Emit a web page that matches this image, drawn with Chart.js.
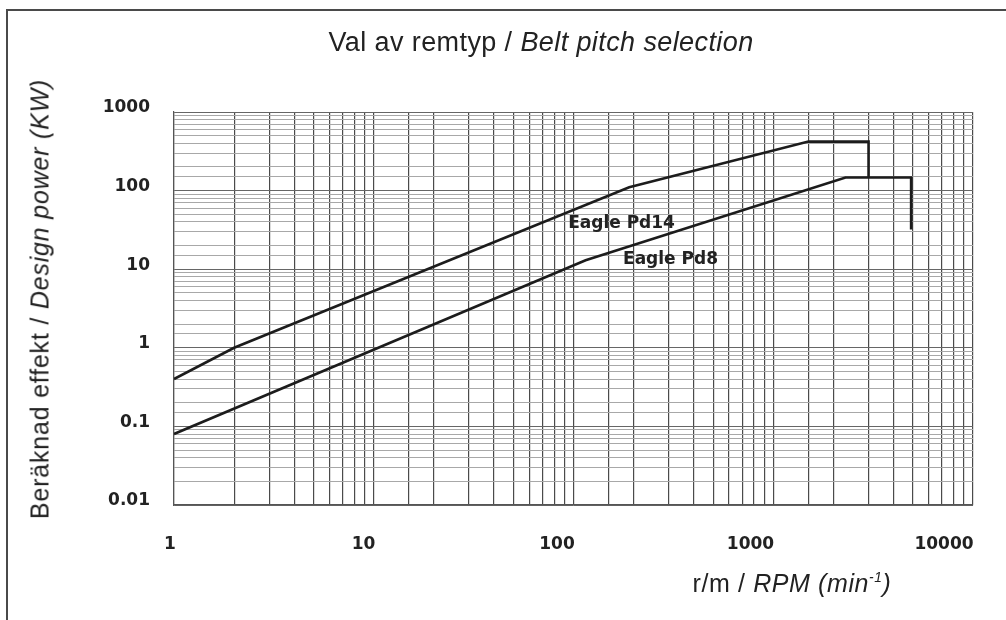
<!DOCTYPE html>
<html>
<head>
<meta charset="utf-8">
<script src="https://cdn.jsdelivr.net/npm/chart.js@4.4.1/dist/chart.umd.min.js"></script>
<style>
html,body{margin:0;padding:0;background:#fff;}
#wrap{position:relative;width:1006px;height:620px;overflow:hidden;background:#fff;}
#frame{position:absolute;left:6px;top:9px;width:1010px;height:620px;border-left:2px solid #4a4a4a;border-top:2px solid #4a4a4a;}
#c{position:absolute;left:0;top:0;}
.t{position:absolute;font-family:"Liberation Sans",Arial,Helvetica,sans-serif;color:#222;white-space:nowrap;line-height:1;}
#title{left:541px;top:42px;transform:translate(-50%,-50%);font-size:27px;letter-spacing:0.4px;}
#ytitle{left:40px;top:299px;transform:translate(-50%,-50%) rotate(-90deg);font-size:25px;letter-spacing:0.8px;}
#xtitle{left:792px;top:583px;transform:translate(-50%,-50%);font-size:25px;letter-spacing:0.6px;}
sup{font-size:55%;vertical-align:0;position:relative;top:-0.75em;}
</style>
</head>
<body>
<div id="wrap">
  <div id="frame"></div>
  <canvas id="c" width="1006" height="620"></canvas>
  <div class="t" id="title">Val av remtyp / <i>Belt pitch selection</i></div>
  <div class="t" id="ytitle">Beräknad effekt / <i>Design power (KW)</i></div>
  <div class="t" id="xtitle">r/m / <i>RPM (min<sup>-1</sup>)</i></div>
</div>
<script>
// ---- data ----
const rpmTicks = [1, 10, 100, 1000, 10000];
const rpmTickLabels = ['1', '10', '100', '1000', '10000'];
const powerTicks = [0.01, 0.1, 1, 10, 100, 1000];
const powerTickLabels = ['0.01', '0.1', '1', '10', '100', '1000'];

const seriesNames = ['Eagle Pd14', 'Eagle Pd8'];
const pd14Rpm   = [1,   2,   190, 1500, 3000, 3000];
const pd14Power = [0.4, 1.0, 110, 420,  420,  147];
const pd8Rpm    = [1,    115, 2300, 4900, 4900];
const pd8Power  = [0.08, 13,  147,  147,  32];

// ---- helpers ----
const isDecade = v => Math.abs(Math.log10(v) - Math.round(Math.log10(v))) < 1e-9;
const toPoints = (xs, ys) => xs.map((x, i) => ({x: x, y: ys[i]}));
const labelFor = (vals, labels, v) => {
  for (let i = 0; i < vals.length; i++) {
    if (Math.abs(vals[i] - v) / vals[i] < 1e-9) return labels[i];
  }
  return '';
};

const lineLabelPlugin = {
  id: 'lineLabels',
  afterDatasetsDraw(chart, args, opts) {
    const ctx = chart.ctx;
    const xs = chart.scales.x, ys = chart.scales.y;
    ctx.save();
    ctx.font = opts.font;
    ctx.fillStyle = opts.color;
    ctx.textAlign = 'left';
    ctx.textBaseline = 'middle';
    opts.items.forEach(it => {
      ctx.fillText(it.text, xs.getPixelForValue(it.rpm), ys.getPixelForValue(it.power));
    });
    ctx.restore();
  }
};

const tickFont = {family: '"DejaVu Sans", Verdana, sans-serif', weight: 'bold', size: 17};

new Chart(document.getElementById('c'), {
  type: 'scatter',
  data: {
    datasets: [
      {label: seriesNames[0], data: toPoints(pd14Rpm, pd14Power)},
      {label: seriesNames[1], data: toPoints(pd8Rpm, pd8Power)}
    ]
  },
  options: {
    responsive: false,
    animation: false,
    devicePixelRatio: 1,
    layout: {padding: {top: 112, right: 33, left: 0, bottom: 0}},
    elements: {
      line: {borderColor: '#1c1c1c', borderWidth: 2.6, tension: 0, fill: false},
      point: {radius: 0, hoverRadius: 0}
    },
    datasets: {scatter: {showLine: true, borderColor: '#1c1c1c', backgroundColor: '#1c1c1c'}},
    plugins: {
      legend: {display: false},
      tooltip: {enabled: false},
      lineLabels: {
        font: 'bold 17px "DejaVu Sans", Verdana, sans-serif',
        color: '#222',
        items: [
          {text: seriesNames[0], rpm: 94, power: 38},
          {text: seriesNames[1], rpm: 177, power: 13.3}
        ]
      }
    },
    scales: {
      x: {
        type: 'logarithmic', position: 'bottom', min: 1, max: 10000, bounds: 'data',
        ticks: {display: false, autoSkip: false},
        grid: {drawTicks: false, color: '#4a4a4a', lineWidth: 1.2},
        border: {display: true, color: '#555', width: 1.2},
        afterFit: s => { s.height = 0; }
      },
      xLab: {
        type: 'logarithmic', position: 'bottom', min: 1.049, max: 14120, bounds: 'data',
        grid: {display: false, drawTicks: false},
        border: {display: false},
        ticks: {
          autoSkip: false, maxRotation: 0, minRotation: 0, padding: 29,
          font: tickFont, color: '#222',
          callback: v => labelFor(rpmTicks, rpmTickLabels, v)
        },
        afterBuildTicks: s => { s.ticks = rpmTicks.map(v => ({value: v})); },
        afterFit: s => { s.height = 115; }
      },
      y: {
        type: 'logarithmic', position: 'left', min: 0.01, max: 1000, bounds: 'data',
        ticks: {
          autoSkip: false, padding: 24, labelOffset: -4,
          font: tickFont, color: '#222',
          callback: v => isDecade(v) ? labelFor(powerTicks, powerTickLabels, v) : ''
        },
        grid: {
          drawTicks: false, lineWidth: 1,
          color: c => (c.tick && isDecade(c.tick.value)) ? '#666' : '#a8a8a8'
        },
        border: {display: true, color: '#555', width: 1.2},
        afterFit: s => { s.width = 174; }
      }
    }
  },
  plugins: [lineLabelPlugin]
});
</script>
</body>
</html>
